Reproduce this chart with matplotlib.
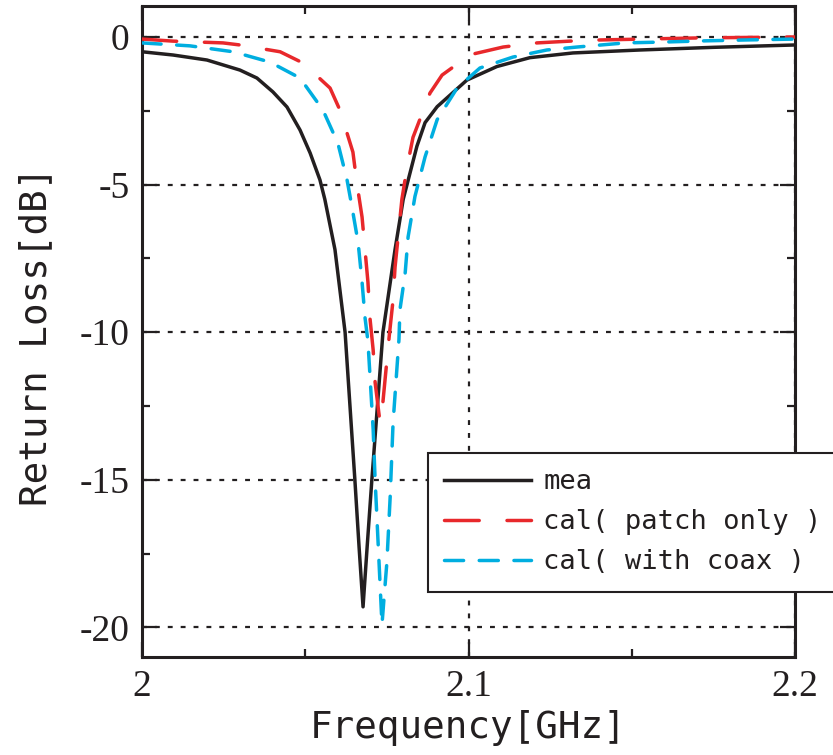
import matplotlib
matplotlib.use("Agg")
import matplotlib.pyplot as plt
from matplotlib.ticker import MultipleLocator

# frequency [GHz] / return loss [dB]
mea_f = [2.000, 2.0095, 2.0199, 2.030, 2.0352, 2.0401, 2.0444, 2.0484, 2.0515,
         2.0545, 2.056, 2.0591, 2.0622, 2.0637, 2.0652, 2.0665, 2.0677, 2.0690,
         2.0704, 2.0721, 2.0738, 2.0775, 2.0800, 2.0842, 2.0867, 2.0904, 2.0995,
         2.1087, 2.1188, 2.132, 2.1525, 2.175, 2.200]
mea_db = [-0.50, -0.61, -0.78, -1.12, -1.39, -1.86, -2.37, -3.15, -3.93,
          -4.84, -5.50, -7.20, -10.0, -12.5, -15.0, -17.3, -19.3, -17.2,
          -15.0, -12.5, -10.0, -7.20, -5.50, -3.70, -2.90, -2.36, -1.46,
          -1.00, -0.70, -0.54, -0.44, -0.35, -0.27]

patch_f = [2.000, 2.0095, 2.0248, 2.030, 2.0423, 2.0493, 2.0576, 2.0606, 2.0646,
           2.0658, 2.0674, 2.0683, 2.0692, 2.0698, 2.0708, 2.0714, 2.0729, 2.0738,
           2.0757, 2.0769, 2.0775, 2.0796, 2.0812, 2.0830, 2.0882, 2.0919, 2.1005,
           2.1106, 2.121, 2.131, 2.1403, 2.1709, 2.200]
patch_db = [-0.07, -0.14, -0.20, -0.27, -0.50, -0.88, -1.73, -2.47, -3.90,
            -4.94, -6.10, -7.20, -8.30, -9.50, -10.6, -11.7, -13.06, -12.35,
            -10.15, -8.90, -7.80, -5.50, -4.40, -3.40, -1.90, -1.29, -0.60,
            -0.34, -0.20, -0.14, -0.10, -0.03, 0.00]

coax_f = [2.000, 2.0147, 2.0279, 2.0392, 2.0484, 2.0554, 2.060, 2.0628, 2.0643,
          2.0662, 2.0674, 2.0683, 2.0692, 2.0708, 2.0714, 2.0726, 2.0735, 2.0741,
          2.0750, 2.0760, 2.0769, 2.0787, 2.0790, 2.0806, 2.0815, 2.0836, 2.0867,
          2.0904, 2.0965, 2.1035, 2.1136, 2.124, 2.1332, 2.148, 2.160, 2.1725,
          2.185, 2.200]
coax_db = [-0.20, -0.30, -0.50, -0.85, -1.39, -2.47, -3.60, -4.84, -5.75,
           -6.97, -8.30, -9.50, -10.3, -13.3, -15.0, -17.8, -19.9, -19.05,
           -17.8, -15.6, -13.06, -10.25, -9.24, -8.00, -6.77, -5.40, -4.06,
           -2.80, -1.73, -1.05, -0.68, -0.44, -0.34, -0.20, -0.17, -0.13,
           -0.10, -0.07]

labels = ["mea", "cal( patch only )", "cal( with coax )"]
x_ticks = [2.0, 2.1, 2.2]
x_ticklabels = ["2", "2.1", "2.2"]
y_ticks = [0, -5, -10, -15, -20]
y_ticklabels = ["0", "-5", "-10", "-15", "-20"]

fig = plt.figure(figsize=(8.33, 7.55), dpi=100)
ax = fig.add_axes([142 / 833, 1 - 657 / 755, 653 / 833, 651 / 755])

lw = 2.5
ax.plot(mea_f, mea_db, color="#231f20", lw=lw, label=labels[0],
        solid_joinstyle="round", zorder=3)
ax.plot(patch_f, patch_db, color="#e8282b", lw=lw, label=labels[1],
        dashes=(10, 8), dash_capstyle="round", zorder=3)
ax.plot(coax_f, coax_db, color="#00aee0", lw=lw, label=labels[2],
        dashes=(5.5, 4.5), dash_capstyle="round", zorder=4)

ax.set_xlim(2.0, 2.2)
ax.set_ylim(-21, 1.05)
ax.set_xticks(x_ticks)
ax.set_xticklabels(x_ticklabels)
ax.set_yticks(y_ticks)
ax.set_yticklabels(y_ticklabels)
ax.xaxis.set_minor_locator(MultipleLocator(0.05))
ax.yaxis.set_minor_locator(MultipleLocator(2.5))

ax.grid(True, which="major", color="#231f20", lw=1.6, linestyle=(0, (2.2, 3.6)))
ax.set_axisbelow(True)

for sp in ax.spines.values():
    sp.set_linewidth(2.2)
    sp.set_color("#231f20")

serif = ["Liberation Serif", "DejaVu Serif"]
ax.tick_params(which="both", direction="in", top=True, right=True,
               color="#231f20", width=1.6)
ax.tick_params(which="major", length=11, pad=9)
ax.tick_params(which="minor", length=6)
for t in ax.get_xticklabels() + ax.get_yticklabels():
    t.set_family(serif)
    t.set_fontsize(27)
    t.set_color("#231f20")

mono = ["DejaVu Sans Mono"]
ax.set_xlabel("Frequency[GHz]", family=mono, fontsize=27, color="#231f20")
ax.set_ylabel("Return Loss[dB]", family=mono, fontsize=27, color="#231f20")
ax.xaxis.set_label_coords(0.5, -0.082)
ax.yaxis.set_label_coords(-0.135, 0.493)

leg = ax.legend(loc="upper left", bbox_to_anchor=(428 / 833, 1 - 453 / 755),
                bbox_transform=fig.transFigure, prop={"family": mono, "size": 19.5},
                handlelength=3.2, handletextpad=0.45, labelspacing=0.52,
                borderpad=0.6, borderaxespad=0, fancybox=False, framealpha=1)
leg.get_frame().set_edgecolor("#231f20")
leg.get_frame().set_linewidth(1.5)
for t in leg.get_texts():
    t.set_color("#231f20")

fig.savefig("out.png", dpi=100)
